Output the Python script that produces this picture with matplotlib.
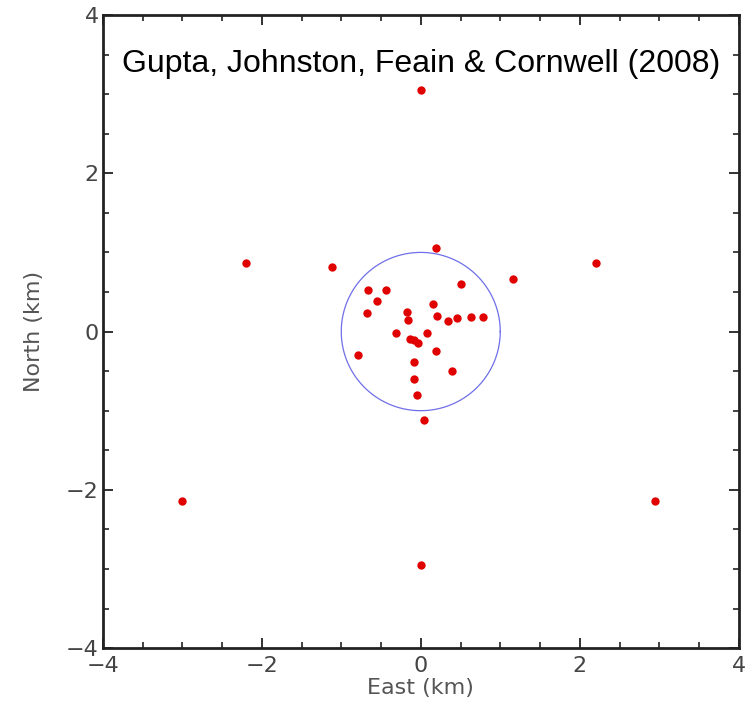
import numpy as np
import matplotlib
matplotlib.use('Agg')
import matplotlib.pyplot as plt
from matplotlib.ticker import MultipleLocator

# antenna positions (km)
east = [0.0, -2.2, -1.12, 2.2, 1.16, 0.19, -3.0, 2.95, 0.0, 0.04,
        -0.66, -0.44, -0.55, -0.68, 0.50, 0.16, -0.17, -0.155, 0.21, 0.34,
        0.45, 0.63, 0.78, -0.31, 0.08, -0.13, -0.08, -0.03, -0.79, 0.19,
        -0.08, 0.39, -0.08, -0.05]
north = [3.05, 0.86, 0.81, 0.86, 0.66, 1.06, -2.14, -2.14, -2.95, -1.12,
         0.52, 0.53, 0.38, 0.23, 0.60, 0.35, 0.25, 0.14, 0.20, 0.13,
         0.17, 0.18, 0.19, -0.02, -0.02, -0.10, -0.11, -0.15, -0.30, -0.24,
         -0.38, -0.50, -0.60, -0.80]
core_radius = 1.0
ticks = [-4, -2, 0, 2, 4]

fig = plt.figure(figsize=(7.5, 7.13), dpi=100)
ax = fig.add_axes([0.137, 0.091, 0.848, 0.888])

theta = np.linspace(0, 2 * np.pi, 400)
ax.plot(core_radius * np.cos(theta), core_radius * np.sin(theta),
        color='#6f6fe8', lw=0.9)
ax.plot(east, north, 'o', color='#e00000', markersize=6, markeredgewidth=0)

ax.set_xlim(-4, 4)
ax.set_ylim(-4, 4)
ax.set_xticks(ticks)
ax.set_yticks(ticks)
ax.set_xticklabels([str(t).replace('-', '\u2212') for t in ticks])
ax.set_yticklabels([str(t).replace('-', '\u2212') for t in ticks])
ax.xaxis.set_minor_locator(MultipleLocator(0.5))
ax.yaxis.set_minor_locator(MultipleLocator(0.5))
ax.tick_params(which='both', direction='in', top=True, right=True,
               colors='#222222', labelcolor='#444444', labelsize=16)
ax.tick_params(which='major', length=7, width=1.3)
ax.tick_params(which='minor', length=4, width=1.2)
ax.tick_params(axis='y', pad=3)
ax.tick_params(axis='x', pad=6)
for s in ax.spines.values():
    s.set_linewidth(2)
    s.set_color('#222222')

ax.set_xlabel('East (km)', fontsize=16, color='#555555', labelpad=1)
ax.set_ylabel('North (km)', fontsize=16, color='#555555', labelpad=16)

ax.text(0.5, 0.947, 'Gupta, Johnston, Feain & Cornwell (2008)',
        transform=ax.transAxes, ha='center', va='top',
        family='Liberation Sans', fontsize=23, color='black')

fig.savefig('out.png', dpi=100)
